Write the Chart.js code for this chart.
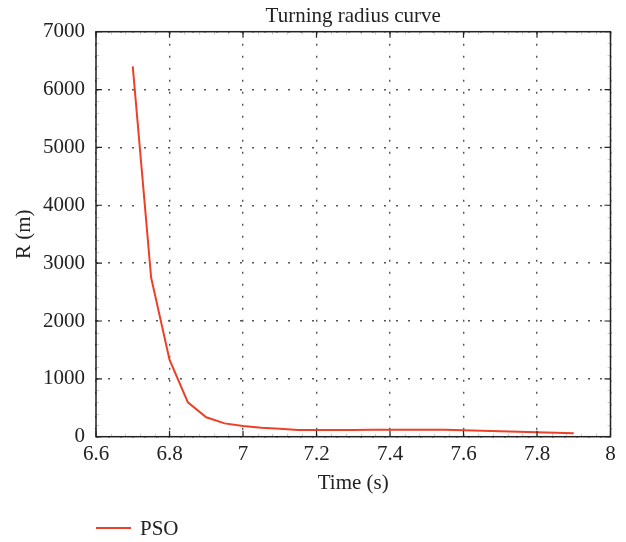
<!DOCTYPE html>
<html lang="en">

<head>
  <meta charset="UTF-8">
  <title>Turning radius curve</title>
  <script src="https://cdn.jsdelivr.net/npm/chart.js"></script>
  <style>
    * {
      margin: 0;
      padding: 0;
      box-sizing: border-box;
    }

    body {
      background: #fff;
      width: 626px;
      height: 542px;
      overflow: hidden;
    }

    canvas {
      display: block;
    }
  </style>
</head>

<body>
  <canvas id="radiusChart" width="626" height="542"></canvas>

  <script>
    // values
    const timeValues = [6.7, 6.75, 6.8, 6.85, 6.9, 6.95, 7.0, 7.05, 7.1, 7.15, 7.2, 7.25, 7.3,
      7.35, 7.4, 7.45, 7.5, 7.55, 7.6, 7.65, 7.7, 7.75, 7.8, 7.85, 7.9];
    const radiusValues = [6400, 2750, 1330, 595, 335, 230, 185, 155, 138, 115, 115, 115, 117,
      118, 120, 120, 120, 118, 112, 104, 95, 86, 78, 70, 60];
    const seriesName = 'PSO';
    const chartTitle = 'Turning radius curve';
    const xTitle = 'Time (s)';
    const yTitle = 'R (m)';

    const serif = '"Liberation Serif", "Times New Roman", serif';
    const fontSize = 21;
    const lineColor = '#ee4028';

    // box, inward ticks, title and legend in the matlab look
    const framePlugin = {
      id: 'frame',
      afterDraw(chart) {
        const { ctx, chartArea: a, scales: { x, y } } = chart;
        ctx.save();

        // minor ticks (faint)
        ctx.strokeStyle = 'rgba(0,0,0,0.2)';
        ctx.lineWidth = 1;
        ctx.beginPath();
        for (let v = 6.6; v < 8; v += 0.04) {
          const px = Math.round(x.getPixelForValue(v)) + 0.5;
          ctx.moveTo(px, a.bottom); ctx.lineTo(px, a.bottom - 3);
          ctx.moveTo(px, a.top); ctx.lineTo(px, a.top + 3);
        }
        for (let v = 0; v < 7000; v += 200) {
          const py = Math.round(y.getPixelForValue(v)) + 0.5;
          ctx.moveTo(a.left, py); ctx.lineTo(a.left + 3, py);
          ctx.moveTo(a.right, py); ctx.lineTo(a.right - 3, py);
        }
        ctx.stroke();

        // major ticks
        ctx.strokeStyle = '#222';
        ctx.lineWidth = 1.2;
        ctx.beginPath();
        x.ticks.forEach(t => {
          const px = x.getPixelForValue(t.value);
          ctx.moveTo(px, a.bottom); ctx.lineTo(px, a.bottom - 6);
          ctx.moveTo(px, a.top); ctx.lineTo(px, a.top + 6);
        });
        y.ticks.forEach(t => {
          const py = y.getPixelForValue(t.value);
          ctx.moveTo(a.left, py); ctx.lineTo(a.left + 6, py);
          ctx.moveTo(a.right, py); ctx.lineTo(a.right - 6, py);
        });
        ctx.stroke();

        // box
        ctx.lineWidth = 1.5;
        ctx.strokeRect(a.left, a.top, a.right - a.left, a.bottom - a.top);

        // title
        ctx.fillStyle = '#222';
        ctx.font = fontSize + 'px ' + serif;
        ctx.textAlign = 'center';
        ctx.textBaseline = 'alphabetic';
        ctx.fillText(chartTitle, (a.left + a.right) / 2, 22);

        // legend
        ctx.strokeStyle = lineColor;
        ctx.lineWidth = 2;
        ctx.beginPath();
        ctx.moveTo(96, 528);
        ctx.lineTo(131, 528);
        ctx.stroke();
        ctx.textAlign = 'left';
        ctx.fillText(seriesName, 140, 535);

        ctx.restore();
      }
    };

    const ctx = document.getElementById('radiusChart').getContext('2d');
    new Chart(ctx, {
      type: 'line',
      data: {
        datasets: [{
          label: seriesName,
          data: timeValues.map((t, i) => ({ x: t, y: radiusValues[i] })),
          borderColor: lineColor,
          borderWidth: 2,
          pointRadius: 0,
          tension: 0,
          fill: false,
        }],
      },
      options: {
        responsive: false,
        animation: false,
        layout: {
          padding: { left: 0, right: 15.5, top: 31.7, bottom: 46.4 },
        },
        plugins: {
          legend: { display: false },
          title: { display: false },
          tooltip: { enabled: false },
        },
        scales: {
          x: {
            type: 'linear',
            min: 6.6,
            max: 8,
            border: { display: false, dash: [2, 10] },
            grid: {
              color: '#555',
              lineWidth: 1.4,
              drawTicks: false,
            },
            ticks: {
              stepSize: 0.2,
              padding: 5,
              color: '#222',
              font: { family: serif, size: fontSize },
              maxRotation: 0,
              callback: v => String(+v.toFixed(1)),
            },
            title: {
              display: true,
              text: xTitle,
              color: '#222',
              font: { family: serif, size: fontSize },
              padding: 0,
            },
            afterFit(scale) {
              scale.height = 58.9;
            },
          },
          y: {
            min: 0,
            max: 7000,
            border: { display: false, dash: [2, 10] },
            grid: {
              color: '#555',
              lineWidth: 1.4,
              drawTicks: false,
            },
            ticks: {
              stepSize: 1000,
              padding: 11,
              color: '#222',
              font: { family: serif, size: fontSize },
              callback: v => String(v),
            },
            title: {
              display: true,
              text: yTitle,
              color: '#222',
              font: { family: serif, size: fontSize },
              padding: { top: 12 },
            },
            afterFit(scale) {
              scale.width = 96;
            },
          },
        },
      },
      plugins: [framePlugin],
    });
  </script>
</body>

</html>
